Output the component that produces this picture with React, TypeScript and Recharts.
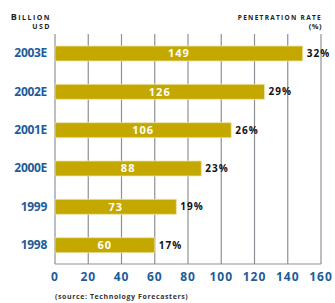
import React from "react";
import { BarChart, Bar, XAxis, YAxis, CartesianGrid, LabelList } from "recharts";

const years = ["2003E", "2002E", "2001E", "2000E", "1999", "1998"];
const revenue = [149, 126, 106, 88, 73, 60];
const penetration = [32, 29, 26, 23, 19, 17];
const xTicks = [0, 20, 40, 60, 80, 100, 120, 140, 160];

const data = years.map((y, i) => ({ year: y, value: revenue[i], pct: penetration[i] }));

const FONT = "'Open Sans', 'Noto Sans', sans-serif";
const BLUE = "#1d5c98";
const GOLD = "#c4a800";
const GRID = "#8c9198";

export default function App() {
  return (
    <div style={{ position: "absolute", left: 0, top: 0, width: 335, height: 303, background: "#fff", fontFamily: FONT }}>
      <div style={{ position: "absolute", right: 284, top: 12, textAlign: "right", fontSize: 8, fontWeight: 700, letterSpacing: 1.5, lineHeight: "9px", color: "#222" }}>
        <div><span style={{ fontSize: 9 }}>B</span><span style={{ fontSize: 7 }}>ILLION</span></div>
        <div style={{ fontSize: 7 }}>USD</div>
      </div>
      <div style={{ position: "absolute", right: 13, top: 13, textAlign: "right", fontSize: 6.5, fontWeight: 700, letterSpacing: 1.3, lineHeight: "9px", color: "#222" }}>
        <div>PENETRATION RATE</div>
        <div style={{ fontSize: 7.5, letterSpacing: 0.5 }}>(%)</div>
      </div>
      <BarChart
        width={335}
        height={303}
        data={data}
        layout="vertical"
        margin={{ top: 34, right: 14, bottom: 15, left: 0 }}
        style={{ position: "absolute", left: 0, top: 0 }}
      >
        <CartesianGrid horizontal={false} vertical={true} stroke={GRID} strokeWidth={1.2} />
        <XAxis
          type="number"
          domain={[0, 160]}
          ticks={xTicks}
          interval={0}
          tickLine={false}
          axisLine={{ stroke: GRID, strokeWidth: 1.2 }}
          height={24}
          tick={{ fill: BLUE, fontSize: 12, fontWeight: 700, fontFamily: FONT, letterSpacing: 1 }}
        />
        <YAxis
          type="category"
          dataKey="year"
          width={55}
          tickLine={false}
          axisLine={false}
          tick={{ fill: BLUE, fontSize: 12, fontWeight: 700, fontFamily: FONT, letterSpacing: -0.3 }}
        />
        <Bar dataKey="value" fill={GOLD} stroke="#ece3a8" strokeWidth={0.8} barSize={15} isAnimationActive={false}>
          <LabelList dataKey="value" position="center" fill="#fff" fontSize={11} fontWeight={700} fontFamily={FONT} style={{ letterSpacing: 1 }} />
          <LabelList dataKey="pct" position="right" offset={4} formatter={(v: any) => `${v}%`} fill="#111" fontSize={10} fontWeight={700} fontFamily={FONT} style={{ letterSpacing: 1 }} />
        </Bar>
      </BarChart>
      <div style={{ position: "absolute", left: 55, top: 292, fontSize: 7, fontWeight: 700, color: "#333", letterSpacing: 0.6 }}>
        (source: Technology Forecasters)
      </div>
    </div>
  );
}
